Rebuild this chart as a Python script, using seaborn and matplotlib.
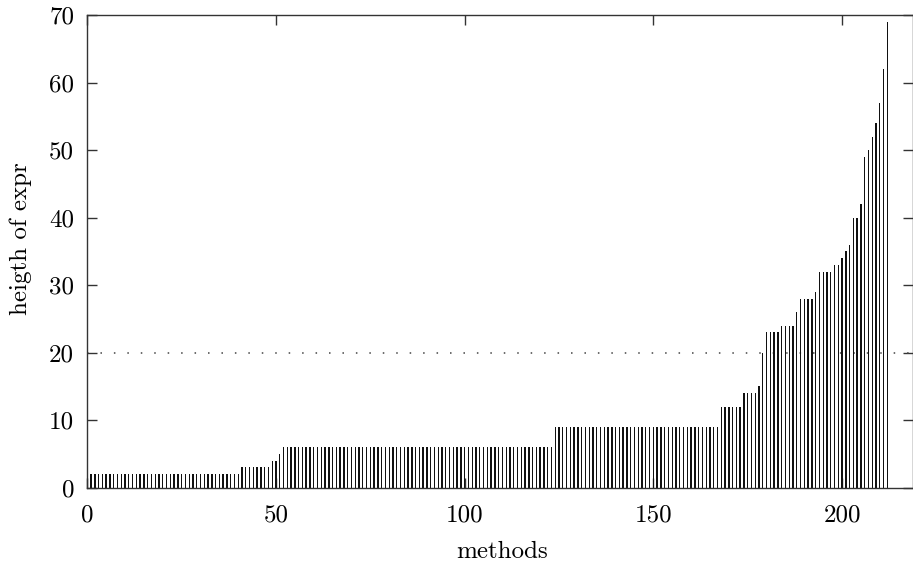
import numpy as np
import pandas as pd
import matplotlib
matplotlib.use("Agg")
import matplotlib.pyplot as plt
import seaborn as sns

# ---- data (sorted heights per method) ----
levels = [2, 3, 4, 5, 6, 9, 12, 14, 15, 20, 23, 24, 26, 28, 29, 32, 33, 34, 35, 36,
          40, 42, 49, 50, 52, 54, 57, 62, 69]
counts = [41, 8, 2, 1, 72, 44, 6, 4, 1, 1, 4, 4, 1, 4, 1, 4, 2, 1, 1, 1,
          2, 1, 1, 1, 1, 1, 1, 1, 1]
heights = [lv for lv, c in zip(levels, counts) for _ in range(c)]
methods = list(range(len(heights)))
threshold = 20
x_ticks = [0, 50, 100, 150, 200]
y_ticks = [0, 10, 20, 30, 40, 50, 60, 70]

df = pd.DataFrame({"methods": methods, "height": heights})

sns.set_theme(style="white")
plt.rcParams["font.family"] = ["cmr10", "DejaVu Serif"]
plt.rcParams["axes.formatter.use_mathtext"] = True
plt.rcParams["mathtext.fontset"] = "cm"

W, H = 913, 571
L, R, T, B = 87.3, 913.0, 15.0, 487.5
fig = plt.figure(figsize=(W / 100, H / 100), dpi=100)
ax = fig.add_axes([L / W, 1 - B / H, (R - L) / W, (B - T) / H])

sns.barplot(data=df, x="methods", y="height", native_scale=True, width=0.36,
            color="#111111", edgecolor="none", linewidth=0, saturation=1,
            ax=ax, zorder=2)

ax.axhline(threshold, color="#444444", lw=1.1, linestyle=(0, (1.0, 7.8)), zorder=1)

ax.set_xlim(0, 218.8)
ax.set_ylim(0, 70)
ax.set_xticks(x_ticks)
ax.set_yticks(y_ticks)
ax.set_xticklabels([str(t) for t in x_ticks])
ax.set_yticklabels([str(t) for t in y_ticks])

for s in ax.spines.values():
    s.set_visible(True)
    s.set_color("#333333")
    s.set_linewidth(1.0)

FS = 18
ax.tick_params(axis="both", which="major", direction="in", length=7, width=1.0,
               color="#333333", labelsize=FS, labelcolor="black",
               top=True, right=True, bottom=True, left=True)
ax.tick_params(axis="x", pad=12)
ax.tick_params(axis="y", pad=9.5)

ax.set_xlabel("methods", fontsize=FS, color="black")
ax.set_ylabel("heigth of expr", fontsize=FS, color="black")
ax.xaxis.set_label_coords((502 - L) / (R - L), (B - 541) / (B - T))
ax.yaxis.set_label_coords((32 - L) / (R - L), (B - 238.5) / (B - T))
ax.grid(False)

fig.savefig("out.png", dpi=100)
